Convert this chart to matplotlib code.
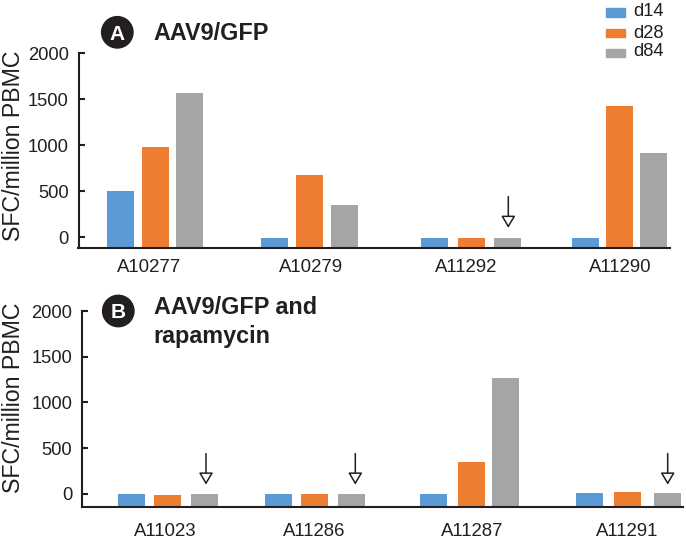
import matplotlib
matplotlib.use('Agg')
import matplotlib.pyplot as plt
from matplotlib.patches import Circle, Rectangle

plt.rcParams['font.family'] = ['Liberation Sans', 'DejaVu Sans']

days = ['d14', 'd28', 'd84']
colors = ['#5B9BD5', '#ED7D31', '#A5A5A5']
ink = '#231F20'

# panel A
animals_a = ['A10277', 'A10279', 'A11292', 'A11290']
d14_a = [500, -10, -10, -10]
d28_a = [980, 675, -10, 1427]
d84_a = [1565, 352, -10, 918]

# panel B
animals_b = ['A11023', 'A11286', 'A11287', 'A11291']
d14_b = [-7, -4, -7, 4]
d28_b = [-11, 0, 347, 18]
d84_b = [-4, 0, 1266, 4]

yticks = [0, 500, 1000, 1500, 2000]

W, H = 686, 539
fig = plt.figure(figsize=(W / 100, H / 100), dpi=100)


def draw_panel(box, ymin, animals, series, bar_x, label_x, arrow_x, pad):
    # box = left, top, right, bottom in pixels
    left, top, right, bottom = box
    ax = fig.add_axes([left / W, 1 - bottom / H, (right - left) / W, (bottom - top) / H])
    ax.set_xlim(left, right)
    ax.set_ylim(ymin, 2000)
    for k in range(3):
        xs = [g[k] for g in bar_x]
        ax.bar(xs, [v - ymin for v in series[k]], bottom=ymin, width=27, color=colors[k], zorder=2)
    for x in arrow_x:
        ax.annotate('', xy=(x, 100), xytext=(x, 440),
                    arrowprops=dict(arrowstyle='-|>,head_width=0.43,head_length=0.72', fc='white', ec=ink,
                                    lw=1.1, shrinkA=0, shrinkB=0))
    ax.spines[['top', 'right']].set_visible(False)
    ax.spines[['left', 'bottom']].set_linewidth(1.5)
    ax.spines[['left', 'bottom']].set_color(ink)
    ax.spines['bottom'].set_zorder(3)
    ax.set_yticks(yticks)
    ax.tick_params(axis='y', direction='in', length=4.5, width=1.5, pad=7, labelsize=13.2, color=ink, labelcolor=ink)
    ax.set_xticks(label_x)
    ax.set_xticklabels(animals)
    ax.tick_params(axis='x', length=0, pad=pad, labelsize=13.4, labelcolor=ink)
    return ax


draw_panel((78.5, 53.3, 670, 247.5), -114, animals_a, [d14_a, d28_a, d84_a],
           [(120.8, 155.2, 189.4), (274.5, 309.8, 344.4), (434.5, 472, 508),
            (585.6, 619.7, 654)],
           [149.5, 311, 466, 620.7], [508.3], 8)
draw_panel((82, 311, 683, 507.3), -148, animals_b, [d14_b, d28_b, d84_b],
           [(131.7, 167.7, 204.4), (278.5, 314.7, 351), (433.3, 471.3, 505.8),
            (589.8, 627.5, 667.5)],
           [165, 314.7, 472.3, 626.7], [206, 355.3, 667.7], 11)

# overlay in pixel coordinates for y labels, badges, titles and the key
ov = fig.add_axes([0, 0, 1, 1], facecolor='none')
ov.set_xlim(0, W)
ov.set_ylim(H, 0)
ov.axis('off')

ov.text(14, 146, 'SFC/million PBMC', rotation=90, fontsize=16.7, color=ink, ha='center', va='center')
ov.text(14, 398, 'SFC/million PBMC', rotation=90, fontsize=16.7, color=ink, ha='center', va='center')

for cx, cy, letter in [(117.3, 32.3, 'A'), (118.3, 311, 'B')]:
    ov.add_patch(Circle((cx, cy), 15.7, color=ink, zorder=4))
    ov.text(cx, cy, letter, color='white', fontsize=15, fontweight='bold', ha='center', va='center_baseline', zorder=5)

ov.text(153.5, 33, 'AAV9/GFP', fontsize=16.8, fontweight='bold', color=ink, va='center')
ov.text(153.5, 308, 'AAV9/GFP and', fontsize=16.8, fontweight='bold', color=ink, va='center')
ov.text(153.5, 337, 'rapamycin', fontsize=16.8, fontweight='bold', color=ink, va='center')

for day, c, y, ty in zip(days, colors, [12.5, 33, 53], [11, 33, 52]):
    ov.add_patch(Rectangle((606, y - 4.3), 18.7, 8.6, color=c))
    ov.text(633.7, ty, day, fontsize=13.2, color=ink, va='center')

fig.savefig('out.png', dpi=100)
